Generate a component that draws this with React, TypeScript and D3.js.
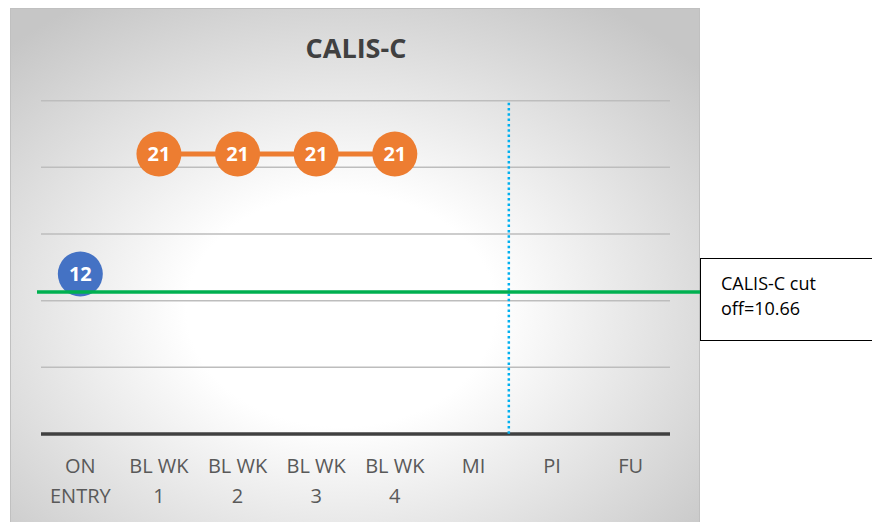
import React from "react";
import * as d3 from "d3";

const categories = ["ON ENTRY", "BL WK 1", "BL WK 2", "BL WK 3", "BL WK 4", "MI", "PI", "FU"];
const tickLines = [["ON", "ENTRY"], ["BL WK", "1"], ["BL WK", "2"], ["BL WK", "3"], ["BL WK", "4"], ["MI"], ["PI"], ["FU"]];
const entryPoints = [{ cat: "ON ENTRY", value: 12 }];
const baselinePoints = [
  { cat: "BL WK 1", value: 21 },
  { cat: "BL WK 2", value: 21 },
  { cat: "BL WK 3", value: 21 },
  { cat: "BL WK 4", value: 21 },
];
const yTicks = [0, 5, 10, 15, 20, 25];
const cutoff = 10.66;
const phaseLineIndex = 5.45; // between MI and PI
const title = "CALIS-C";
const cutoffLabel = ["CALIS-C cut", "off=10.66"];

const W = 872;
const H = 522;
const plot = { left: 41, right: 670, top: 100.7, bottom: 434 };

export default function App() {
  const x = d3.scaleBand<string>().domain(categories).range([plot.left, plot.right]).padding(0);
  const xc = (c: string) => (x(c) as number) + x.bandwidth() / 2;
  const xi = d3
    .scaleLinear()
    .domain([0, categories.length - 1])
    .range([xc(categories[0]), xc(categories[categories.length - 1])]);
  const y = d3.scaleLinear().domain([0, 25]).range([plot.bottom, plot.top]);
  const line = d3
    .line<{ cat: string; value: number }>()
    .x((d) => xc(d.cat))
    .y((d) => y(d.value));
  const font = "'Open Sans', 'Noto Sans', sans-serif";
  const r = 22.5;

  return (
    <svg
      width={W}
      height={H}
      style={{ position: "absolute", left: 0, top: 0, display: "block" }}
      fontFamily={font}
    >
      <defs>
        <radialGradient id="bg" cx="48%" cy="58%" r="70%" fx="48%" fy="58%">
          <stop offset="0%" stopColor="#ffffff" />
          <stop offset="32%" stopColor="#ffffff" />
          <stop offset="100%" stopColor="#c6c6c6" />
        </radialGradient>
      </defs>
      <rect x={0} y={0} width={W} height={H} fill="#ffffff" />
      <rect x={10.5} y={8.5} width={689} height={520} fill="url(#bg)" stroke="#c0c0c0" strokeWidth={1} />

      <text x={356} y={58} textAnchor="middle" fontSize={27} fontWeight={700} fill="#404040">
        {title}
      </text>

      {yTicks
        .filter((t) => t > 0)
        .map((t) => (
          <line key={t} x1={plot.left} x2={plot.right} y1={y(t)} y2={y(t)} stroke="#bdbdbd" strokeWidth={1.5} />
        ))}
      <line x1={plot.left} x2={plot.right} y1={y(0)} y2={y(0)} stroke="#404040" strokeWidth={3.5} />

      <line
        x1={xi(phaseLineIndex)}
        x2={xi(phaseLineIndex)}
        y1={y(25) + 2}
        y2={y(0)}
        stroke="#00b0f0"
        strokeWidth={2.5}
        strokeDasharray="2.5 2.8"
      />

      {tickLines.map((lines, i) => (
        <text key={i} textAnchor="middle" fontSize={20} fill="#595959">
          {lines.map((l, j) => (
            <tspan key={j} x={xc(categories[i])} y={473 + j * 30}>
              {l}
            </tspan>
          ))}
        </text>
      ))}

      <path d={line(baselinePoints) || ""} fill="none" stroke="#ed7d31" strokeWidth={5} />
      {baselinePoints.map((d) => (
        <g key={d.cat}>
          <circle cx={xc(d.cat)} cy={y(d.value)} r={r} fill="#ed7d31" />
          <text x={xc(d.cat)} y={y(d.value) + 7} textAnchor="middle" fontSize={20} fontWeight={700} fill="#ffffff">
            {d.value}
          </text>
        </g>
      ))}
      {entryPoints.map((d) => (
        <g key={d.cat}>
          <circle cx={xc(d.cat)} cy={y(d.value)} r={r} fill="#4472c4" />
          <text x={xc(d.cat)} y={y(d.value) + 7} textAnchor="middle" fontSize={20} fontWeight={700} fill="#ffffff">
            {d.value}
          </text>
        </g>
      ))}

      <line x1={37} x2={700} y1={y(cutoff)} y2={y(cutoff)} stroke="#00b050" strokeWidth={3.5} />

      <rect x={700.5} y={258.5} width={200} height={82} fill="#ffffff" stroke="#000000" strokeWidth={1} />
      {cutoffLabel.map((l, i) => (
        <text key={i} x={721} y={290 + i * 25} fontSize={18} fill="#000000">
          {l}
        </text>
      ))}
    </svg>
  );
}
